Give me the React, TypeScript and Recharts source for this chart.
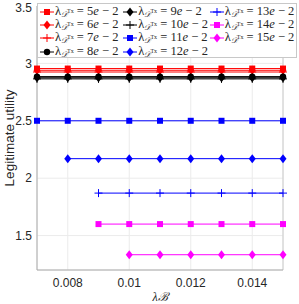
import { LineChart, Line, XAxis, YAxis, CartesianGrid, ReferenceLine } from 'recharts';

const lambdaB = [0.007, 0.008, 0.009, 0.01, 0.011, 0.012, 0.013, 0.014, 0.015];

// one list per lambda_DTx value (null = no point)
const u5 = [2.955, 2.955, 2.955, 2.955, 2.955, 2.955, 2.955, 2.955, 2.955];
const u6 = [2.94, 2.94, 2.94, 2.94, 2.94, 2.94, 2.94, 2.94, 2.94];
const u7 = [2.925, 2.925, 2.925, 2.925, 2.925, 2.925, 2.925, 2.925, 2.925];
const u8 = [2.885, 2.885, 2.885, 2.885, 2.885, 2.885, 2.885, 2.885, 2.885];
const u9 = [2.875, 2.875, 2.875, 2.875, 2.875, 2.875, 2.875, 2.875, 2.875];
const u10 = [2.865, 2.865, 2.865, 2.865, 2.865, 2.865, 2.865, 2.865, 2.865];
const u11 = [2.5, 2.5, 2.5, 2.5, 2.5, 2.5, 2.5, 2.5, 2.5];
const u12 = [null, 2.17, 2.17, 2.17, 2.17, 2.17, 2.17, 2.17, 2.17];
const u13 = [null, null, 1.87, 1.87, 1.87, 1.87, 1.87, 1.87, 1.87];
const u14 = [null, null, 1.6, 1.6, 1.6, 1.6, 1.6, 1.6, 1.6];
const u15 = [null, null, null, 1.333, 1.333, 1.333, 1.333, 1.333, 1.333];

const xTicks = [0.008, 0.01, 0.012, 0.014];
const yTicks = [1.5, 2, 2.5, 3, 3.5];

type Marker = 'square' | 'diamond' | 'plus' | 'circle';

const series: { key: string; label: string; values: (number | null)[]; color: string; marker: Marker }[] = [
  { key: 's5', label: '5', values: u5, color: '#ff0000', marker: 'square' },
  { key: 's6', label: '6', values: u6, color: '#ff0000', marker: 'diamond' },
  { key: 's7', label: '7', values: u7, color: '#ff0000', marker: 'plus' },
  { key: 's8', label: '8', values: u8, color: '#000000', marker: 'circle' },
  { key: 's9', label: '9', values: u9, color: '#000000', marker: 'diamond' },
  { key: 's10', label: '10', values: u10, color: '#000000', marker: 'plus' },
  { key: 's11', label: '11', values: u11, color: '#0000ff', marker: 'square' },
  { key: 's12', label: '12', values: u12, color: '#0000ff', marker: 'diamond' },
  { key: 's13', label: '13', values: u13, color: '#0000ff', marker: 'plus' },
  { key: 's14', label: '14', values: u14, color: '#ff00ff', marker: 'square' },
  { key: 's15', label: '15', values: u15, color: '#ff00ff', marker: 'diamond' },
];

const data = lambdaB.map((x, i) => {
  const row: Record<string, number | null> = { x };
  series.forEach((s) => {
    row[s.key] = s.values[i];
  });
  return row;
});

function MarkerShape({ cx, cy, color, marker }: { cx: number; cy: number; color: string; marker: Marker }) {
  if (marker === 'square') return <rect x={cx - 3} y={cy - 3} width={6} height={6} fill={color} />;
  if (marker === 'diamond')
    return <polygon points={`${cx},${cy - 4.5} ${cx + 3.5},${cy} ${cx},${cy + 4.5} ${cx - 3.5},${cy}`} fill={color} />;
  if (marker === 'circle') return <circle cx={cx} cy={cy} r={3.2} fill={color} />;
  return (
    <g stroke={color} strokeWidth={1}>
      <line x1={cx - 4} y1={cy} x2={cx + 4} y2={cy} />
      <line x1={cx} y1={cy - 4} x2={cx} y2={cy + 4} />
    </g>
  );
}

const makeDot = (color: string, marker: Marker) => (props: any) => {
  const { cx, cy, index } = props;
  if (cx == null || cy == null || props.value == null) return <g key={index} />;
  return (
    <g key={index}>
      <MarkerShape cx={cx} cy={cy} color={color} marker={marker} />
    </g>
  );
};

function LegendItem({ s }: { s: (typeof series)[number] }) {
  return (
    <div style={{ display: 'flex', alignItems: 'center', height: 13.3, whiteSpace: 'nowrap' }}>
      <svg width={14} height={12} style={{ marginRight: 1 }}>
        <line x1={0} y1={6} x2={14} y2={6} stroke={s.color} strokeWidth={1} />
        <MarkerShape cx={7} cy={6} color={s.color} marker={s.marker} />
      </svg>
      <span>
        λ
        <sub style={{ fontSize: 8, verticalAlign: -2 }}>
          <i>𝒟</i>
          <sup style={{ fontSize: 6 }}>Tx</sup>
        </sub>
        {' = '}
        {s.label}
        <i>e</i> − 2
      </span>
    </div>
  );
}

export default function App() {
  const cols = [series.slice(0, 4), series.slice(4, 8), series.slice(8, 11)];
  return (
    <div style={{ position: 'fixed', left: 0, top: 0, width: 299, height: 304, background: '#fff' }}>
      <LineChart width={299} height={304} data={data} margin={{ top: 6, right: 16, left: 0, bottom: 0 }}>
        <CartesianGrid stroke="#ebebeb" />
        <XAxis
          type="number"
          dataKey="x"
          domain={[0.007, 0.015]}
          ticks={xTicks}
          tickFormatter={(v) => String(+v.toFixed(3))}
          tick={{ fill: '#262626', fontSize: 12, fontFamily: 'Liberation Sans, Arial' }}
          tickLine={false}
          axisLine={{ stroke: '#aaaaaa' }}
          height={34}
          label={{
            value: 'λℬ',
            position: 'insideBottom',
            offset: 3,
            fill: '#262626',
            fontSize: 12,
            fontFamily: 'Liberation Serif',
            fontStyle: 'italic',
          }}
        />
        <YAxis
          type="number"
          domain={[1.2, 3.5]}
          ticks={yTicks}
          tick={{ fill: '#262626', fontSize: 12, fontFamily: 'Liberation Sans, Arial', dx: 3 }}
          tickLine={false}
          axisLine={{ stroke: '#aaaaaa' }}
          width={37}
          label={{
            value: 'Legitimate utility',
            angle: -90,
            position: 'insideLeft',
            offset: 9,
            style: { textAnchor: 'middle' },
            fill: '#262626',
            fontSize: 13.5,
            fontFamily: 'Liberation Sans, Arial',
          }}
        />
        <ReferenceLine x={0.015} stroke="#cccccc" />
        {series.map((s) => (
          <Line
            key={s.key}
            dataKey={s.key}
            stroke={s.color}
            strokeWidth={1}
            dot={makeDot(s.color, s.marker)}
            activeDot={false}
            isAnimationActive={false}
          />
        ))}
      </LineChart>
      <div
        style={{
          position: 'absolute',
          left: 37,
          top: 3,
          width: 260,
          height: 55,
          border: '1px solid #c8c8c8',
          background: '#fff',
          boxSizing: 'border-box',
          display: 'flex',
          padding: '1px 0 0 2px',
          fontFamily: 'Liberation Serif, serif',
          fontSize: 12.5,
          color: '#262626',
        }}
      >
        {cols.map((c, i) => (
          <div key={i} style={{ width: i === 0 ? 84 : 87 }}>
            {c.map((s) => (
              <LegendItem key={s.key} s={s} />
            ))}
          </div>
        ))}
      </div>
    </div>
  );
}
